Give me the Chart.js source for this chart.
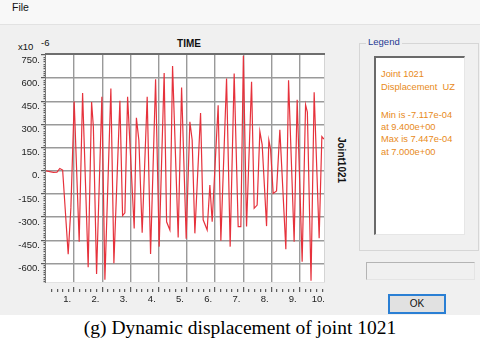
<!DOCTYPE html>
<html><head><meta charset="utf-8">
<script src="https://cdn.jsdelivr.net/npm/chart.js@4/dist/chart.umd.min.js"></script>
<style>
html,body{margin:0;padding:0;}
body{width:480px;height:339px;position:relative;overflow:hidden;background:#f0f0f0;font-family:"Liberation Sans",Arial,sans-serif;}
.abs{position:absolute;white-space:nowrap;}
#menubar{left:0;top:0;width:480px;height:24px;background:#f8f8f8;border-bottom:1px solid #e2e2e2;}
#caption{left:0;top:315px;width:480px;height:24px;background:#fff;}
canvas{position:absolute;left:0;top:0;}
</style></head>
<body>
<div id="menubar" class="abs"></div>
<div class="abs" style="left:12px;top:1px;font-size:10.5px;color:#111;">File</div>
<div id="caption" class="abs"></div>
<div class="abs" style="left:0;top:315px;width:480px;text-align:center;font-family:'Liberation Serif','Times New Roman',serif;font-size:19.5px;line-height:25px;color:#000;">(g) Dynamic displacement of joint 1021</div>

<div class="abs" style="left:18px;top:41px;font-size:9.5px;color:#111;">x10</div>
<div class="abs" style="left:41px;top:37px;font-size:9.5px;color:#111;">-6</div>
<div class="abs" style="left:189px;top:38px;transform:translateX(-50%);font-size:10px;font-weight:bold;color:#111;">TIME</div>
<div class="abs" style="left:341px;top:160px;transform:translate(-50%,-50%) rotate(90deg);font-size:10px;font-weight:bold;color:#111;">Joint1021</div>

<!-- legend group box -->
<div class="abs" style="left:359px;top:43px;width:118px;height:206px;border:1px solid #d6d6d6;"></div>
<div class="abs" style="left:366px;top:36px;padding:0 2px;background:#f0f0f0;font-size:9.5px;color:#1f3a93;">Legend</div>
<div class="abs" style="left:374px;top:56px;width:88px;height:176px;background:#fff;border-left:2px solid #6a6a6a;border-top:2px solid #6a6a6a;border-right:1px solid #e6e6e6;border-bottom:1px solid #e6e6e6;"></div>
<div class="abs" style="left:381px;top:68px;font-size:9.3px;line-height:12.5px;color:#e88a1a;">Joint 1021<br>Displacement&nbsp; UZ</div>
<div class="abs" style="left:381px;top:109px;font-size:9.3px;line-height:12.2px;color:#e88a1a;">Min is -7.117e-04<br>at 9.400e+00<br>Max is 7.447e-04<br>at 7.000e+00</div>
<!-- status box -->
<div class="abs" style="left:366px;top:262px;width:107px;height:16px;border:1px solid #b4b4b4;border-right-color:#e4e4e4;border-bottom-color:#e4e4e4;background:#f0f0f0;"></div>
<!-- OK button -->
<div class="abs" style="left:388px;top:294px;width:54px;height:16px;border:2px solid #2a7fd4;background:#e1e1e1;font-size:10px;line-height:16px;text-align:center;color:#111;">OK</div>

<canvas id="c" width="480" height="339"></canvas>
<script>
// ---- data (time in s, displacement in 1e-6 units) ----
const timeSec = [0,0.26,0.39,0.49,0.59,0.787,0.883,1.0,1.177,1.298,1.496,1.617,1.68,1.794,1.982,2.089,2.301,2.408,2.621,2.716,2.798,2.894,3.128,3.206,3.294,3.411,3.589,3.709,3.887,4.014,4.191,4.277,4.394,4.489,4.688,4.809,4.972,5.103,5.184,5.28,5.482,5.574,5.716,5.812,5.894,6.106,6.202,6.404,6.532,6.674,6.816,6.911,7.0,7.113,7.291,7.383,7.489,7.585,7.667,7.823,7.904,7.965,8.057,8.177,8.294,8.507,8.603,8.801,8.908,9.085,9.206,9.27,9.4,9.511,9.688,9.784,9.855];
const dispUZ = [0,-10,-8,15,5,-540,-240,448,-459,504,-625,446,285,-668,479,-705,533,-599,453,-290,-272,479,-373,343,198,-401,479,-539,593,-491,634,-330,-383,679,-431,539,-440,317,200,-405,375,-317,-383,-92,-330,425,-453,598,-491,630,-362,-362,745,-360,576,-243,-222,255,170,-358,198,140,-146,-130,265,-508,586,-459,460,-588,428,380,-712,509,-437,222,206];
const xTickValues = [1,2,3,4,5,6,7,8,9,10];
const xTickLabels = ['1.','2.','3.','4.','5.','6.','7.','8.','9.','10.'];
const yTickValues = [750,600,450,300,150,0,-150,-300,-450,-600];
const yTickLabels = ['750.','600.','450.','300.','150.','0.','-150.','-300.','-450.','-600.'];
const xMin = 0, xMax = 9.86, yMin = -720, yMax = 750;

const points = timeSec.map((t, i) => ({x: t, y: dispUZ[i]}));
const isInt = v => Math.abs(v - Math.round(v)) < 1e-6;
const isMajY = v => Math.abs(v % 150) < 1e-6;

const framePlugin = {
  id: 'frame',
  beforeDraw(chart) {
    const a = chart.chartArea, c = chart.ctx;
    c.save(); c.fillStyle = '#ffffff';
    c.fillRect(a.left, a.top, a.right - a.left, a.bottom - a.top);
    c.restore();
  },
  afterDraw(chart) {
    const a = chart.chartArea, c = chart.ctx;
    c.save();
    c.lineWidth = 1; c.strokeStyle = '#d4d4d4';
    c.beginPath(); c.moveTo(a.right + 0.5, a.top); c.lineTo(a.right + 0.5, a.bottom + 1); c.stroke();
    c.strokeStyle = '#e2e2e2';
    c.beginPath(); c.moveTo(a.left, a.bottom + 0.5); c.lineTo(a.right + 1, a.bottom + 0.5); c.stroke();
    c.strokeStyle = '#7a7a7a';
    c.beginPath(); c.moveTo(a.left - 0.5, a.top - 1); c.lineTo(a.left - 0.5, a.bottom + 1); c.stroke();
    c.lineWidth = 2; c.strokeStyle = '#6e6e6e';
    c.beginPath(); c.moveTo(a.left - 1, a.top - 1); c.lineTo(a.right + 1, a.top - 1); c.stroke();
    c.restore();
  }
};

new Chart(document.getElementById('c'), {
  type: 'line',
  data: { datasets: [{
    data: points,
    borderColor: '#e6323c',
    borderWidth: 1.2,
    pointRadius: 0,
    tension: 0,
    fill: false
  }]},
  options: {
    responsive: false,
    animation: false,
    devicePixelRatio: 1,
    layout: { padding: { top: 55, right: 156, bottom: 0, left: 0 } },
    plugins: { legend: { display: false }, tooltip: { enabled: false }, title: { display: false } },
    scales: {
      x: {
        type: 'linear', position: 'bottom', min: xMin, max: xMax,
        afterFit(s) { s.height = 57; },
        afterBuildTicks(s) {
          const t = [];
          for (let k = 1; k <= 49; k++) t.push({ value: Math.round(k * 2) / 10 });
          t.push({ value: 10 });
          s.ticks = t;
        },
        border: { display: false },
        grid: {
          color: ctx => (ctx.tick && isInt(ctx.tick.value) && ctx.tick.value < xMax) ? '#9a9a9a' : 'rgba(0,0,0,0)',
          lineWidth: 1.4,
          tickLength: 10,
          tickColor: ctx => (ctx.tick && ctx.tick.value < xMax) ? '#3a3a3a' : 'rgba(0,0,0,0)',
          tickWidth: 1,
          tickBorderDash: ctx => (ctx.tick && isInt(ctx.tick.value)) ? [0, 5, 5, 60] : [0, 7, 3, 60]
        },
        ticks: {
          autoSkip: false, maxRotation: 0, minRotation: 0,
          align: 'end', labelOffset: -3, padding: 2,
          color: '#222', font: { family: 'Liberation Sans', size: 9.5 },
          callback: v => { const i = xTickValues.findIndex(u => Math.abs(u - v) < 1e-6); return i >= 0 ? xTickLabels[i] : ''; }
        }
      },
      y: {
        type: 'linear', position: 'left', min: yMin, max: yMax,
        afterFit(s) { s.width = 46; },
        border: { display: false },
        grid: {
          color: ctx => (ctx.tick && isMajY(ctx.tick.value) && ctx.tick.value < yMax) ? '#9a9a9a' : 'rgba(0,0,0,0)',
          lineWidth: 1.4,
          tickLength: 5,
          tickColor: '#3a3a3a',
          tickWidth: 1,
          tickBorderDash: ctx => (ctx.tick && isMajY(ctx.tick.value)) ? [] : [0, 2.5, 2.5, 60]
        },
        ticks: {
          stepSize: 15, autoSkip: false, padding: 1, labelOffset: 5,
          color: '#222', font: { family: 'Liberation Sans', size: 9.5 },
          callback: v => { const i = yTickValues.findIndex(u => Math.abs(u - v) < 1e-6); return i >= 0 ? yTickLabels[i] : ''; }
        }
      }
    }
  },
  plugins: [framePlugin]
});
</script>
</body></html>
